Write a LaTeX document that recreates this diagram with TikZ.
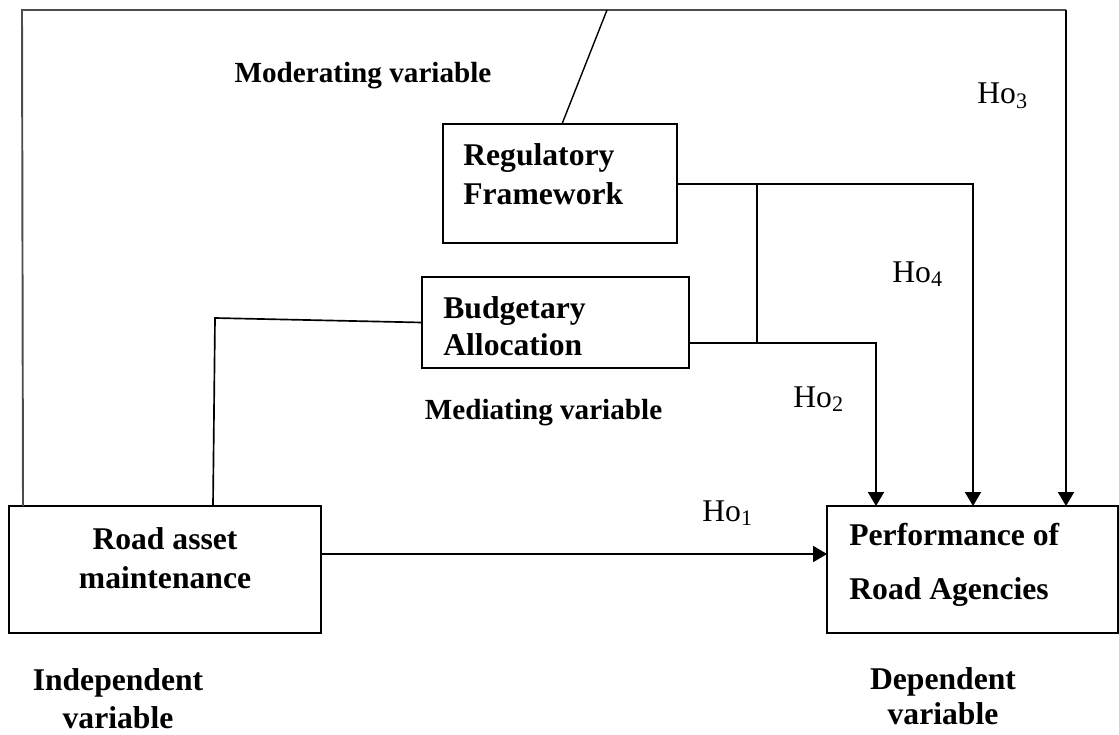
\documentclass[tikz,border=0pt]{standalone}
\usepackage{fontspec}
\setmainfont{Liberation Serif}
\usetikzlibrary{arrows.meta,calc}
\begin{document}
\begin{tikzpicture}[x=0.02cm,y=-0.02cm,
  box/.style={draw, line width=1.1pt, inner sep=0pt, outer sep=0pt},
  txt/.style={inner sep=0pt, font=\fontsize{18}{22.5}\selectfont\bfseries},
  smalltxt/.style={inner sep=0pt, font=\fontsize{16.6}{20}\selectfont\bfseries},
  ho/.style={inner sep=0pt, font=\fontsize{18}{21}\selectfont, anchor=west},
  conn/.style={line width=0.95pt},
  frame/.style={line width=1.1pt, draw=black!70},
  arr/.style={line width=1.05pt, -{Triangle[length=0.28cm,width=0.32cm]}}]
\useasboundingbox (0,0) rectangle (1119,734);

% boxes
\node[box, minimum width=4.68cm, minimum height=2.38cm] (reg)  at (560,183.5) {};
\node[box, minimum width=5.34cm, minimum height=1.82cm] (bud)  at (555.5,322.5) {};
\node[box, minimum width=6.24cm, minimum height=2.54cm] (road) at (165,569.5) {};
\node[box, minimum width=5.82cm, minimum height=2.54cm] (perf) at (972.5,569.5) {};

% box texts
\node[txt, align=left, anchor=west, font=\fontsize{18}{22}\selectfont\bfseries] (regt) at (463,174) {Regulatory\\Framework};
\node[txt, align=left, anchor=west, font=\fontsize{18}{21.2}\selectfont\bfseries] (budt) at (443,326.5) {Budgetary\\Allocation};
\node[txt, align=center] (roadt) at (165,558) {Road asset\\maintenance};
\node[txt, align=left, anchor=west, font=\fontsize{18}{30.7}\selectfont\bfseries] (perft) at (849,565) {Performance of\\Road Agencies};

% free labels
\node[smalltxt] (modt) at (363,76) {Moderating variable};
\node[smalltxt] (medt) at (543.5,413) {Mediating variable};
\node[txt, align=center, font=\fontsize{18}{21.6}\selectfont\bfseries] (indt) at (118,699) {Independent\\variable};
\node[txt, align=center, font=\fontsize{18}{20}\selectfont\bfseries] (dept) at (943,696) {Dependent\\variable};

% hypothesis labels
\node[ho] (ho1) at (702,513) {Ho\textsubscript{1}};
\node[ho] (ho2) at (793,399) {Ho\textsubscript{2}};
\node[ho] (ho3) at (977,96) {Ho\textsubscript{3}};
\node[ho] (ho4) at (892,274) {Ho\textsubscript{4}};

% coordinates
\coordinate (tl) at (22,10);
\coordinate (tr) at (1066,10);
\coordinate (slt) at (607,10);
\coordinate (rl) at (23,0);
\coordinate (jr) at (973,184);
\coordinate (jv) at (757,184);
\coordinate (jvb) at (757,343);
\coordinate (jb) at (876,343);
\coordinate (jm) at (215,318);
\coordinate (h1) at (500,554);

% moderating frame
\draw[frame] (road.north -| rl) -- (tl) -- (tr);
\draw[arr] (tr) -- (tr |- perf.north);
\draw[line width=0.8pt] (reg.north -| 562,0) -- (slt);

% regulatory line
\draw[arr] (reg.east |- jr) -- (jr) -- (jr |- perf.north);
\draw[conn] (jv) -- (jvb);

% budgetary line
\draw[arr] (bud.east |- jb) -- (jb) -- (jb |- perf.north);

% road to budget
\draw[conn] (road.north -| 213,0) -- (jm) -- (bud.west);

% direct effect
\draw[arr] (road.east |- h1) -- (perf.west |- h1);
\end{tikzpicture}
\end{document}
